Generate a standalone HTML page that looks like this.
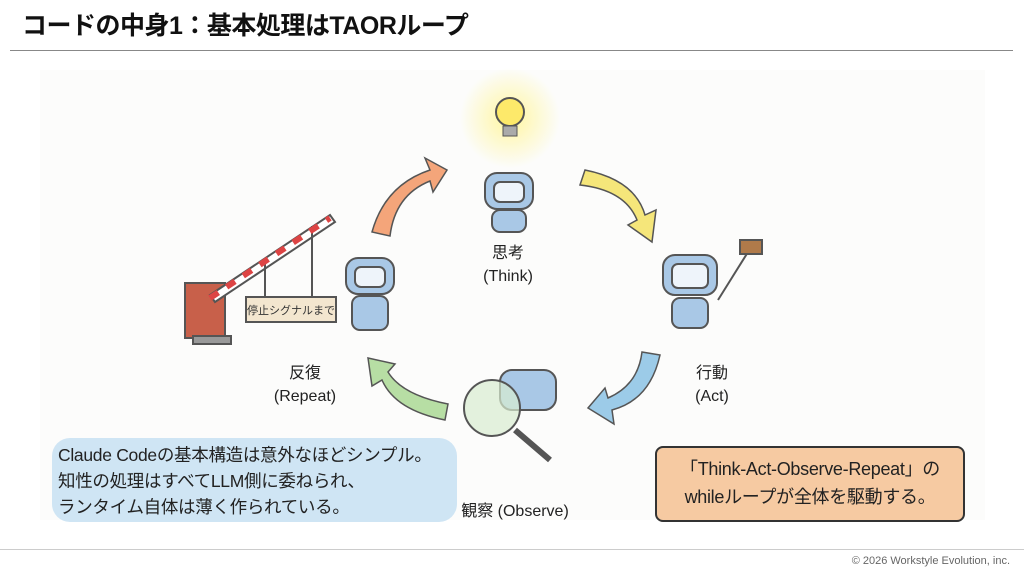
<!DOCTYPE html>
<html><head><meta charset="utf-8"><style>
body{margin:0;width:1024px;height:576px;background:#fff;position:relative;overflow:hidden;font-family:"Liberation Sans","Noto Sans CJK JP",sans-serif;}
.a{position:absolute;}
.t{font-size:25px;font-weight:bold;left:22px;top:6px;color:#111;letter-spacing:-0.5px}
.lbl{position:absolute;font-size:16px;color:#222;text-align:center;width:120px;line-height:23px}
</style></head><body>
<div class="a t">コードの中身1：基本処理はTAORループ</div>
<div class="a" style="left:10px;top:50px;width:1003px;height:1px;background:#888"></div>
<div class="a" style="left:40px;top:70px;width:945px;height:450px;background:#fcfcfb"></div>
<svg class="a" style="left:0;top:0" width="1024" height="576">
<defs>
<radialGradient id="g"><stop offset="0" stop-color="#fff6a0"/><stop offset="1" stop-color="#fff6a0" stop-opacity="0"/></radialGradient>
</defs>
<circle cx="510" cy="118" r="50" fill="url(#g)"/>
<circle cx="510" cy="112" r="14" fill="#fde96a" stroke="#555" stroke-width="2"/>
<rect x="503" y="126" width="14" height="10" fill="#aaa" stroke="#555"/>
<path d="M372 232 Q385 185 430 170 L425 158 L447 170 L433 192 L430 181 Q395 195 390 236 Z" fill="#f4a57a" stroke="#555" stroke-width="1.5"/>
<path d="M585 170 Q635 180 645 215 L656 210 L652 242 L628 225 L637 220 Q625 190 580 185 Z" fill="#f5e67a" stroke="#555" stroke-width="1.5"/>
<path d="M660 355 Q650 400 612 410 L614 424 L588 408 L605 388 L608 398 Q638 385 642 352 Z" fill="#9ccbe8" stroke="#555" stroke-width="1.5"/>
<path d="M445 420 Q395 410 382 380 L372 386 L368 358 L395 364 L388 372 Q402 395 448 404 Z" fill="#b7dea4" stroke="#555" stroke-width="1.5"/>
<g stroke="#555" stroke-width="2">
<rect x="485" y="173" width="48" height="36" rx="12" fill="#a9c8e6"/><rect x="494" y="182" width="30" height="20" rx="6" fill="#eef4fa"/>
<rect x="492" y="210" width="34" height="22" rx="8" fill="#a9c8e6"/>
<rect x="663" y="255" width="54" height="40" rx="12" fill="#a9c8e6"/><rect x="672" y="264" width="36" height="24" rx="6" fill="#eef4fa"/>
<rect x="672" y="298" width="36" height="30" rx="8" fill="#a9c8e6"/>
<line x1="718" y1="300" x2="748" y2="252"/>
<rect x="740" y="240" width="22" height="14" fill="#b07a4a"/>
<rect x="346" y="258" width="48" height="36" rx="12" fill="#a9c8e6"/><rect x="355" y="267" width="30" height="20" rx="6" fill="#eef4fa"/>
<rect x="352" y="296" width="36" height="34" rx="8" fill="#a9c8e6"/>
<rect x="500" y="370" width="56" height="40" rx="12" fill="#a9c8e6"/>
<circle cx="492" cy="408" r="28" fill="#d8ecd0" fill-opacity="0.7"/>
<line x1="515" y1="430" x2="550" y2="460" stroke-width="6"/>
<rect x="185" y="283" width="40" height="55" fill="#c8604a"/>
<rect x="193" y="336" width="38" height="8" fill="#999"/>
<path d="M210 295 L330 215 L335 222 L215 302 Z" fill="#fff"/>
<line x1="312" y1="226" x2="312" y2="297"/><line x1="265" y1="258" x2="265" y2="297"/>
<rect x="246" y="297" width="90" height="25" fill="#f3e6cf"/>
</g>
<line x1="210" y1="298" x2="330" y2="218" stroke="#d44" stroke-width="6" stroke-dasharray="10 10"/>
<text x="291" y="314" font-size="11" text-anchor="middle" fill="#333" font-family="Noto Sans CJK JP">停止シグナルまで</text>
</svg>
<div class="lbl" style="left:448px;top:242px">思考<br>(Think)</div>
<div class="lbl" style="left:652px;top:362px">行動<br>(Act)</div>
<div class="lbl" style="left:245px;top:362px">反復<br>(Repeat)</div>
<div class="lbl" style="left:440px;top:500px;width:150px">観察 (Observe)</div>
<div class="a" style="left:52px;top:438px;width:405px;height:84px;background:#cfe5f4;border-radius:18px"></div>
<div class="a" style="left:58px;top:442px;font-size:17.5px;line-height:26px;color:#222;letter-spacing:-0.3px">Claude Codeの基本構造は意外なほどシンプル。<br>知性の処理はすべてLLM側に委ねられ、<br>ランタイム自体は薄く作られている。</div>
<div class="a" style="left:655px;top:446px;width:306px;height:72px;background:#f6caa2;border:2px solid #333;border-radius:8px"></div>
<div class="a" style="left:659px;top:455px;width:302px;font-size:18px;line-height:28px;color:#222;text-align:center;letter-spacing:-0.3px">「Think-Act-Observe-Repeat」の<br>whileループが全体を駆動する。</div>
<div class="a" style="left:0;top:549px;width:1024px;height:1px;background:#ccc"></div>
<div class="a" style="right:14px;top:555px;font-size:11px;color:#666">© 2026 Workstyle Evolution, inc.</div>
</body></html>
